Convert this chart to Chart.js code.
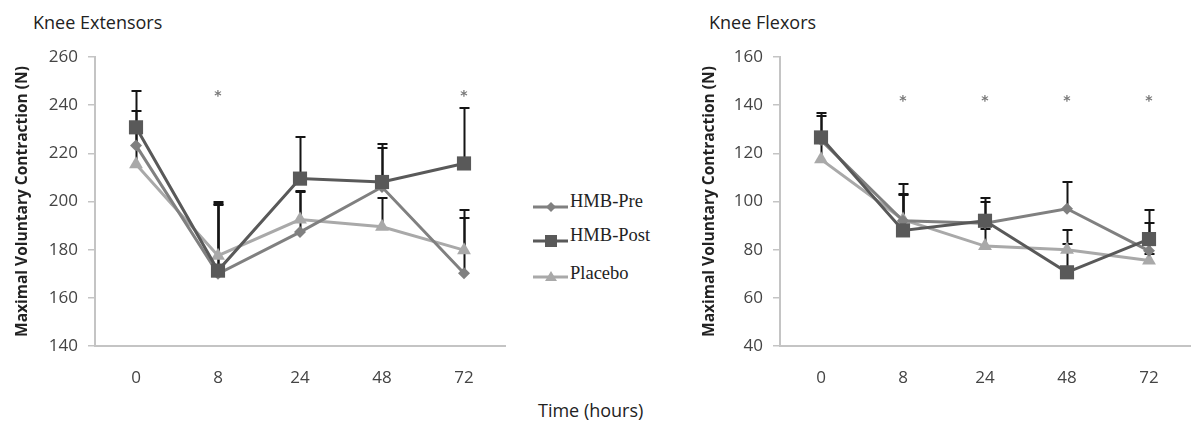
<!DOCTYPE html>
<html>
<head>
<meta charset="utf-8">
<script src="https://cdn.jsdelivr.net/npm/chart.js@4/dist/chart.umd.min.js"></script>
<style>
  html, body { margin:0; padding:0; background:#fff; }
  body { width:1200px; height:443px; position:relative; overflow:hidden; font-family:"Open Sans", sans-serif; }
  .abs { position:absolute; white-space:nowrap; }
  .title { font-size:18px; color:#222; line-height:24px; }
  .leg { font-family:"Liberation Serif", serif; font-size:18.5px; line-height:20px; color:#222; }
  canvas { position:absolute; top:0; }
</style>
</head>
<body>
<div class="abs title" style="left:33px; top:10px;">Knee Extensors</div>
<div class="abs title" style="left:709px; top:10px;">Knee Flexors</div>
<div class="abs title" style="left:538px; top:398px;">Time (hours)</div>

<svg class="abs" style="left:530px; top:190px;" width="45" height="100">
  <line x1="3" y1="17" x2="38" y2="17" stroke="#808080" stroke-width="3"/>
  <polygon points="21,12 26,17 21,22 16,17" fill="#808080"/>
  <line x1="3" y1="51" x2="38" y2="51" stroke="#595959" stroke-width="3"/>
  <rect x="15" y="45" width="12" height="12" fill="#595959"/>
  <line x1="3" y1="87" x2="38" y2="87" stroke="#a9a9a9" stroke-width="3"/>
  <polygon points="21,81 27,91 15,91" fill="#a9a9a9"/>
</svg>
<div class="abs leg" style="left:570px; top:191px;">HMB-Pre</div>
<div class="abs leg" style="left:570px; top:225px;">HMB-Post</div>
<div class="abs leg" style="left:570px; top:263px;">Placebo</div>

<canvas id="c1" width="520" height="443" style="left:0px;"></canvas>
<canvas id="c2" width="510" height="443" style="left:690px;"></canvas>

<script>
// ---- Data ----
const timeLabels = ['0', '8', '24', '48', '72'];
const seriesNames = ['HMB-Pre', 'HMB-Post', 'Placebo'];

// Knee Extensors (N)
const extPre      = [223.3, 170.0, 187.3, 206.0, 170.2];
const extPreErr   = [14.2, 28.4, 17.1, 16.3, 26.2];
const extPost     = [230.8, 171.3, 209.5, 208.1, 215.8];
const extPostErr  = [15.2, 28.7, 17.1, 15.6, 23.0];
const extPlac     = [215.5, 177.5, 192.5, 189.5, 179.8];
const extPlacErr  = [13.5, 21.5, 11.3, 11.9, 13.2];
const extSig      = ['', '*', '', '', '*'];
const extTicks    = [140, 160, 180, 200, 220, 240, 260];

// Knee Flexors (N)
const flxPre      = [125.5, 92.0, 91.0, 97.0, 79.5];
const flxPreErr   = [10.0, 11.0, 9.0, 11.0, 11.5];
const flxPost     = [126.6, 88.0, 92.0, 70.6, 84.4];
const flxPostErr  = [10.1, 19.4, 9.4, 17.4, 12.0];
const flxPlac     = [117.5, 92.5, 81.5, 80.0, 75.5];
const flxPlacErr  = [10.5, 10.0, 7.0, 2.5, 2.5];
const flxSig      = ['', '*', '*', '*', '*'];
const flxTicks    = [40, 60, 80, 100, 120, 140, 160];

const yTitle = 'Maximal Voluntary Contraction (N)';

// ---- Styles ----
const colPre = '#808080', colPost = '#595959', colPlac = '#a9a9a9';
const axisCol = '#c4c4c4';

const errorBars = {
  id: 'errorBars',
  beforeDatasetsDraw(chart) {
    const { ctx, scales: { x, y } } = chart;
    ctx.save();
    ctx.strokeStyle = '#151515';
    ctx.lineWidth = 2;
    chart.data.datasets.forEach((ds, i) => {
      if (!chart.isDatasetVisible(i)) return;
      ds.data.forEach((v, j) => {
        const e = ds.errors[j];
        const px = Math.round(x.getPixelForValue(j)) + 0.5;
        const py = y.getPixelForValue(v);
        const pt = Math.round(y.getPixelForValue(v + e));
        ctx.beginPath();
        ctx.moveTo(px, py); ctx.lineTo(px, pt);
        ctx.moveTo(px - 5, pt); ctx.lineTo(px + 5, pt);
        ctx.stroke();
      });
    });
    ctx.restore();
  }
};

const sigMarks = {
  id: 'sigMarks',
  afterDatasetsDraw(chart, args, opts) {
    const { ctx, scales: { x, y } } = chart;
    ctx.save();
    ctx.fillStyle = '#777';
    ctx.font = 'bold 14px "DejaVu Sans", sans-serif';
    ctx.textAlign = 'center';
    ctx.textBaseline = 'middle';
    opts.marks.forEach((m, j) => {
      if (!m) return;
      ctx.fillText(m, x.getPixelForValue(j), y.getPixelForValue(opts.level) + 3);
    });
    ctx.restore();
  }
};

function makeDatasets(pre, preErr, post, postErr, plac, placErr) {
  return [
    { label: seriesNames[0], data: pre, errors: preErr, borderColor: colPre, backgroundColor: colPre,
      pointStyle: 'rectRot', pointRadius: 6, borderWidth: 3, pointBorderWidth: 0, order: 1 },
    { label: seriesNames[1], data: post, errors: postErr, borderColor: colPost, backgroundColor: colPost,
      pointStyle: 'rect', pointRadius: 10, borderWidth: 3, pointBorderWidth: 0, order: 0 },
    { label: seriesNames[2], data: plac, errors: placErr, borderColor: colPlac, backgroundColor: colPlac,
      pointStyle: 'triangle', pointRadius: 8, borderWidth: 3, pointBorderWidth: 0, order: 2 },
  ];
}

function makeChart(id, datasets, ticks, sig, sigLevel, padLeft, padRight, yWidth) {
  const tickVals = ticks.slice();
  return new Chart(document.getElementById(id), {
    type: 'line',
    data: { labels: timeLabels, datasets },
    options: {
      responsive: false,
      animation: false,
      devicePixelRatio: 1,
      layout: { padding: { left: padLeft, right: padRight, top: 57, bottom: 0 } },
      plugins: {
        legend: { display: false },
        tooltip: { enabled: false },
        sigMarks: { marks: sig, level: sigLevel }
      },
      elements: { line: { tension: 0 } },
      scales: {
        x: {
          type: 'category',
          offset: true,
          grid: { display: true, drawOnChartArea: false, drawTicks: false },
          border: { color: axisCol, width: 2 },
          ticks: { color: '#444', padding: 22, font: { family: 'Open Sans', size: 17 } },
          afterFit(s) { s.height = 97; }
        },
        y: {
          min: tickVals[0], max: tickVals[tickVals.length - 1],
          afterBuildTicks(s) { s.ticks = tickVals.map(v => ({ value: v })); },
          grid: { display: true, drawOnChartArea: false, drawTicks: true, tickLength: 7, color: axisCol, lineWidth: 1.5 },
          border: { color: axisCol, width: 2 },
          ticks: { color: '#444', padding: 10, font: { family: 'Open Sans', size: 17 } },
          title: { display: true, text: yTitle, color: '#222', font: { family: 'Open Sans', size: 15.5, weight: 'bold' }, padding: { top: 4, bottom: 4 } },
          afterFit(s) { s.width = yWidth; }
        }
      }
    },
    plugins: [errorBars, sigMarks]
  });
}

makeChart('c1', makeDatasets(extPre, extPreErr, extPost, extPostErr, extPlac, extPlacErr),
  extTicks, extSig, 245, 9, 15, 86);
makeChart('c2', makeDatasets(flxPre, flxPreErr, flxPost, flxPostErr, flxPlac, flxPlacErr),
  flxTicks, flxSig, 143, 6, 10, 84);
</script>
</body>
</html>
